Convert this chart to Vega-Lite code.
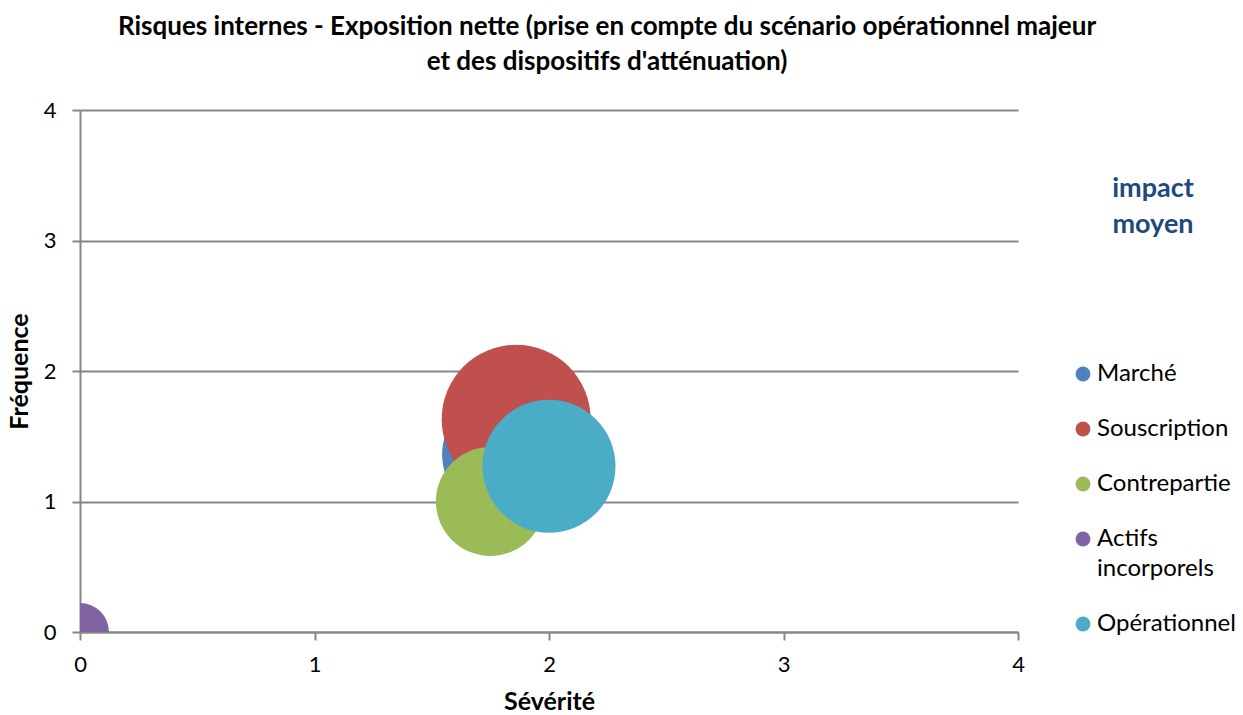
{
  "$schema": "https://vega.github.io/schema/vega-lite/v6.json",
  "width": 938,
  "height": 522,
  "autosize": {"type": "none"},
  "padding": {"left": 80, "top": 110, "right": 225, "bottom": 83},
  "background": "white",
  "title": {
    "text": ["Risques internes - Exposition nette (prise en compte du scénario opérationnel majeur", "et des dispositifs d'atténuation)"],
    "font": "Lato",
    "fontSize": 26,
    "fontWeight": "bold",
    "color": "#000000",
    "lineHeight": 35,
    "anchor": "middle",
    "offset": 24,
    "dx": 58
  },
  "data": {
    "values": [
      {"risque": "Marché", "severite": 1.80, "frequence": 1.36, "impact": 3.6},
      {"risque": "Souscription", "severite": 1.86, "frequence": 1.63, "impact": 5.55},
      {"risque": "Contrepartie", "severite": 1.75, "frequence": 1.0, "impact": 2.97},
      {"risque": "Actifs incorporels", "severite": 0, "frequence": 0, "impact": 0.84},
      {"risque": "Opérationnel", "severite": 2.0, "frequence": 1.27, "impact": 4.42}
    ]
  },
  "mark": {"type": "circle", "opacity": 1, "clip": true},
  "encoding": {
    "x": {
      "field": "severite",
      "type": "quantitative",
      "scale": {"domain": [0, 4], "nice": false},
      "axis": {"title": "Sévérité", "values": [0, 1, 2, 3, 4], "grid": false, "labelFlush": false, "labelPadding": 14, "titlePadding": 14, "format": "d"}
    },
    "y": {
      "field": "frequence",
      "type": "quantitative",
      "scale": {"domain": [0, 4], "nice": false},
      "axis": {"title": "Fréquence", "values": [0, 1, 2, 3, 4], "grid": true, "labelFlush": false, "labelPadding": 16, "titlePadding": 11, "format": "d"}
    },
    "size": {
      "field": "impact",
      "type": "quantitative",
      "scale": {"domain": [0, 6], "range": [0, 24000]},
      "legend": null
    },
    "color": {
      "field": "risque",
      "type": "nominal",
      "sort": null,
      "scale": {
        "domain": ["Marché", "Souscription", "Contrepartie", "Actifs incorporels", "Opérationnel"],
        "range": ["#4F81BD", "#C0504D", "#9BBB59", "#8064A2", "#4BACC6"]
      },
      "legend": {
        "title": ["impact", "moyen"],
        "orient": "none",
        "legendX": 991,
        "legendY": 66,
        "titleFont": "Lato",
        "titleFontSize": 27,
        "titleFontWeight": "bold",
        "titleColor": "#1F497D",
        "titleLineHeight": 36,
        "titleAnchor": "middle",
        "titleAlign": "center",
        "titlePadding": 123,
        "symbolType": "circle",
        "symbolSize": 220,
        "symbolStrokeWidth": 0,
        "labelFont": "Lato",
        "labelFontSize": 24,
        "labelColor": "#000000",
        "labelOffset": 2,
        "labelLimit": 300,
        "rowPadding": 31,
        "labelExpr": "datum.label == 'Actifs incorporels' ? ['Actifs', 'incorporels'] : datum.label"
      }
    }
  },
  "config": {
    "view": {"stroke": null},
    "style": {"guide-label": {"lineHeight": 30}},
    "axis": {
      "labelFont": "Lato",
      "labelFontSize": 22,
      "labelColor": "#000000",
      "domainColor": "#878787",
      "domainWidth": 2,
      "tickColor": "#878787",
      "tickWidth": 2,
      "tickSize": 8,
      "gridColor": "#878787",
      "gridWidth": 2,
      "titleFont": "Lato",
      "titleFontSize": 25,
      "titleFontWeight": "bold",
      "titleColor": "#000000"
    }
  }
}
